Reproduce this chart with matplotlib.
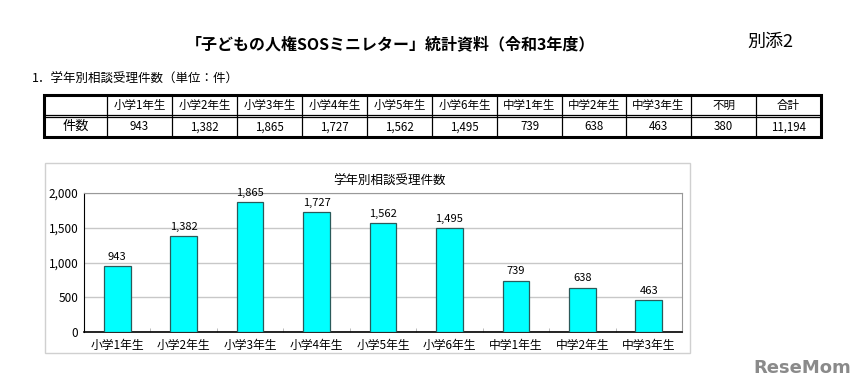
import matplotlib.pyplot as plt
from matplotlib.patches import Rectangle

plt.rcParams['font.family'] = ['Noto Sans CJK JP', 'DejaVu Sans']

# Data
grades = ["小学1年生", "小学2年生", "小学3年生", "小学4年生", "小学5年生",
          "小学6年生", "中学1年生", "中学2年生", "中学3年生"]
counts = [943, 1382, 1865, 1727, 1562, 1495, 739, 638, 463]
unknown_label = "不明"
unknown_count = 380
total_label = "合計"
total_count = sum(counts) + unknown_count

W, H = 860, 391
fig = plt.figure(figsize=(W / 100, H / 100), dpi=100)

# background axes in pixel coordinates for page text / table
bg = fig.add_axes([0, 0, 1, 1])
bg.set_xlim(0, W)
bg.set_ylim(H, 0)
bg.axis("off")

bg.text(390, 44, "「子どもの人権SOSミニレター」統計資料（令和3年度）",
        ha="center", va="center", fontsize=11.5, fontweight="bold")
bg.text(770, 42, "別添2", ha="center", va="center", fontsize=13)
bg.text(32, 79, "1．学年別相談受理件数（単位：件）", ha="left", va="center", fontsize=9)

# table
col_edges = [44, 107, 172, 237, 302, 367, 432, 497, 562, 626, 691, 756, 821]
top, mid, bot = 95, 115.5, 137
header = [""] + grades + [unknown_label, total_label]
row = ["件数"] + [f"{v:,}" for v in counts] + [f"{unknown_count:,}", f"{total_count:,}"]
for x in col_edges[1:-1]:
    bg.plot([x, x], [top, bot], color="black", lw=0.9)
bg.plot([col_edges[0], col_edges[-1]], [mid - 1, mid - 1], color="black", lw=0.9)
bg.plot([col_edges[0], col_edges[-1]], [mid + 1, mid + 1], color="black", lw=0.9)
bg.add_patch(Rectangle((col_edges[0], top), col_edges[-1] - col_edges[0], bot - top,
                       fill=False, edgecolor="black", lw=2.2))
for i in range(len(header)):
    cx = (col_edges[i] + col_edges[i + 1]) / 2
    bg.text(cx, (top + mid) / 2, header[i], ha="center", va="center", fontsize=8.3)
    bg.text(cx, (mid + bot) / 2 + 0.5, row[i], ha="center", va="center",
            fontsize=9.5 if i == 0 else 8.3)

# chart frame
bg.add_patch(Rectangle((45, 163), 645, 190, fill=False, edgecolor="#d0d0d0", lw=1))
bg.text(390, 181, "学年別相談受理件数", ha="center", va="center", fontsize=9)

# watermark
bg.text(802, 368, "ReseMom", ha="center", va="center", fontsize=13,
        fontweight="bold", color="#8a8a8a", family=["DejaVu Sans"])

# bar chart
ax = fig.add_axes([84 / W, 1 - 332 / H, 598 / W, 139 / H])
x = range(len(grades))
ax.bar(x, counts, width=0.4, color="#00FFFF", edgecolor="#2a5a5a", lw=0.9, zorder=3)
for xi, v in zip(x, counts):
    ax.text(xi, v + 60, f"{v:,}", ha="center", va="bottom", fontsize=8)
ax.set_xlim(-0.5, len(grades) - 0.5)
ax.set_ylim(0, 2000)
ax.set_yticks([0, 500, 1000, 1500, 2000])
ax.set_yticklabels([f"{v:,}" for v in [0, 500, 1000, 1500, 2000]], fontsize=8.5)
ax.set_xticks(list(x))
ax.set_xticklabels(grades, fontsize=8.5)
ax.tick_params(axis="x", length=0, pad=5)
ax.tick_params(axis="y", length=0, pad=4)
ax.set_xticks([i + 0.5 for i in range(len(grades) - 1)], minor=True)
ax.tick_params(axis="x", which="minor", direction="in", length=3, color="#b0b0b0")
ax.grid(axis="y", color="#c8c8c8", lw=1, zorder=0)
ax.spines["left"].set_color("black")
ax.spines["bottom"].set_color("black")
ax.spines["bottom"].set_linewidth(1.2)
ax.spines["top"].set_color("#999999")
ax.spines["right"].set_color("#999999")

plt.savefig("out.png", dpi=100)
